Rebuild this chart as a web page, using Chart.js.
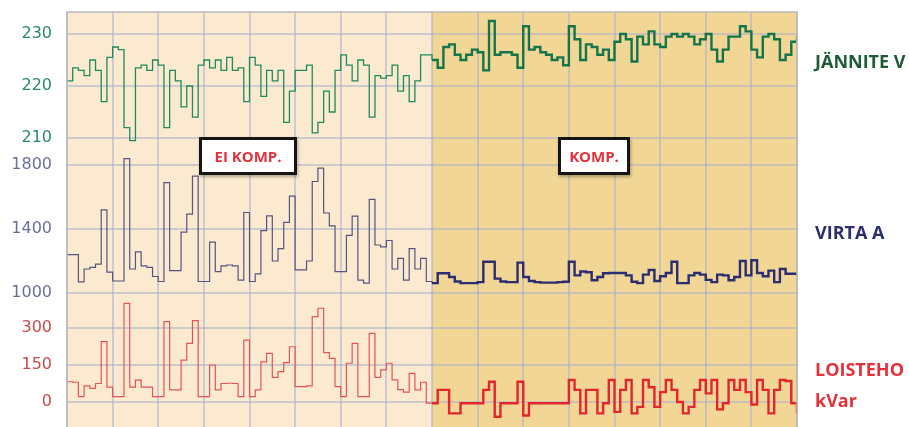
<!DOCTYPE html>
<html>
<head>
<meta charset="utf-8">
<script src="https://cdn.jsdelivr.net/npm/chart.js@4.4.1/dist/chart.umd.min.js"></script>
<style>
  html, body { margin: 0; padding: 0; background: #fff; }
  #wrap { position: relative; width: 909px; height: 427px; overflow: hidden; }
  #wrap canvas { position: absolute; left: 0; top: 0; }
  .side { position: absolute; left: 815px; font: bold 18px "Open Sans", sans-serif; white-space: nowrap; line-height: 1; }
  .tag { position: absolute; top: 137px; height: 38px; box-sizing: border-box; border: 3px solid #151515;
         background: #fff; color: #e2323c; font: bold 15px "Open Sans", sans-serif;
         display: flex; align-items: center; justify-content: center; box-shadow: 1px 2px 3px rgba(0,0,0,0.3); }
</style>
</head>
<body>
<div id="wrap">
  <canvas id="c" width="909" height="427"></canvas>
  <div class="side" style="top:52px;color:#1d5c34">JÄNNITE V</div>
  <div class="side" style="top:223px;color:#2b2f6e">VIRTA A</div>
  <div class="side" style="top:360px;color:#e2323c">LOISTEHO</div>
  <div class="side" style="top:391px;color:#e2323c">kVar</div>
  <div class="tag" style="left:199px;width:98px">EI KOMP.</div>
  <div class="tag" style="left:558px;width:72px">KOMP.</div>
</div>
<script>
const DIVS = 16;     // vertical grid divisions
const PER_DIV = 8;   // samples per division
const SPLIT = 8;     // compensation on from this division

// voltage, V
const VOLTAGE = [
  221, 223.5, 223, 222, 225, 223, 217, 225.5,
  227.5, 227, 212, 209.5, 223.5, 224, 223, 225,
  224, 212, 223, 221, 216, 220, 214, 224,
  225, 223.5, 225, 223, 225.5, 223, 223.5, 217,
  225.5, 224, 218, 223, 221, 223, 213, 219,
  223, 223, 224, 211, 213, 219, 215, 223,
  226, 224, 221, 225, 224, 214, 222, 221.5,
  222, 224, 219, 222, 217, 221, 226, 226,
  225, 223.5, 227.5, 228, 226, 225, 226, 227,
  226.5, 223, 232.5, 226, 226.5, 226.5, 226, 223.5,
  231.5, 227, 227.5, 226.5, 226, 225, 225.5, 224,
  231.5, 229, 225, 228, 227.5, 226, 227, 225,
  228.5, 230, 229, 224.7, 229.5, 228, 230.5, 228,
  227.5, 229.5, 230, 229.5, 230, 229.5, 228, 229,
  230, 227, 224.7, 227, 229.5, 229.5, 231.5, 230.5,
  227, 225.5, 229.5, 230, 229, 225, 226, 228.5, 229.5
];

// current, A
const CURRENT = [
  1240, 1240, 1070, 1150, 1160, 1180, 1520, 1130,
  1075, 1075, 1840, 1150, 1257, 1170, 1160, 1103,
  1072, 1690, 1140, 1140, 1380, 1493, 1730, 1072,
  1072, 1318, 1134, 1170, 1175, 1170, 1080, 1503,
  1072, 1120, 1390, 1482, 1200, 1277, 1441, 1605,
  1144, 1144, 1200, 1697, 1780, 1500, 1420, 1134,
  1134, 1360, 1480, 1080, 1062, 1585, 1300, 1288,
  1328, 1150, 1216, 1080, 1277, 1150, 1216, 1072,
  1062, 1123, 1123, 1100, 1072, 1062, 1062, 1062,
  1068, 1195, 1195, 1090, 1072, 1068, 1068, 1190,
  1100, 1075, 1068, 1065, 1065, 1065, 1068, 1070,
  1195, 1110, 1134, 1130, 1080, 1100, 1123, 1125,
  1125, 1125, 1110, 1070, 1062, 1115, 1144, 1075,
  1105, 1125, 1195, 1062, 1062, 1110, 1125, 1115,
  1082, 1068, 1115, 1110, 1080, 1100, 1200, 1110,
  1205, 1125, 1105, 1140, 1068, 1150, 1120, 1120, 1110
];

// reactive power, kVar
const REACTIVE = [
  82, 80, 22, 65, 55, 75, 245, 60,
  22, 22, 400, 60, 89, 60, 60, 22,
  22, 326, 49, 49, 170, 238, 330, 22,
  22, 150, 49, 75, 76, 75, 22, 251,
  22, 49, 163, 197, 100, 123, 160, 224,
  62, 62, 65, 346, 380, 200, 177, 62,
  22, 157, 238, 22, 22, 278, 100, 130,
  157, 90, 50, 40, 116, 49, 80, -5,
  -5, 49, 49, -46, -46, -5, -5, -5,
  -5, 49, 82, -60, -5, -5, -5, 82,
  -55, -5, -5, -5, -5, -5, -5, -5,
  89, 49, -46, 49, 49, -46, -5, 89,
  -40, 49, 89, -46, -20, 89, 60, -20,
  40, 89, 49, 0, -46, -20, 49, 89,
  35, 89, -30, -5, 89, 49, 89, 40,
  -10, 89, 49, -46, 49, 89, 85, -5, -46
];

const VOLT_TICKS = [210, 220, 230];
const CURR_TICKS = [1000, 1400, 1800];
const REAC_TICKS = [0, 150, 300];

const GRID = 'rgba(170,176,205,0.55)';

const toPoints = arr => arr.map((y, i) => ({ x: i / PER_DIV, y }));

function lineSet(data, axis, colLeft, colRight, wLeft, wRight) {
  return {
    data: toPoints(data),
    yAxisID: axis,
    stepped: true,
    pointRadius: 0,
    borderColor: colLeft,
    borderWidth: wLeft,
    segment: {
      borderColor: c => c.p0.parsed.x >= SPLIT ? colRight : colLeft,
      borderWidth: c => c.p0.parsed.x >= SPLIT ? wRight : wLeft,
    },
  };
}

// no extra room for labels that hang over the band edges
function noPad(s) {
  s.paddingTop = 0;
  s.paddingBottom = 0;
  s.paddingLeft = 0;
  s.paddingRight = 0;
}

function panelAxis(ticks, min, max, share, weight, color) {
  return {
    type: 'linear',
    position: 'left',
    stack: 'panels',
    stackWeight: share,
    weight,
    min, max,
    afterBuildTicks: s => { s.ticks = ticks.map(v => ({ value: v })); },
    afterFit: s => { s.width = 67; noPad(s); },
    ticks: {
      autoSkip: false,
      padding: 15,
      color,
      font: { family: 'DejaVu Sans', size: 16 },
      callback: v => String(v),
    },
    grid: { color: GRID, lineWidth: 2, drawTicks: false },
    border: { display: false },
  };
}

const panelBg = {
  id: 'panelBg',
  beforeDraw(chart) {
    const { ctx, chartArea: a, scales } = chart;
    const xs = scales.x.getPixelForValue(SPLIT);
    ctx.save();
    ctx.fillStyle = '#fbead0';
    ctx.fillRect(a.left, a.top, xs - a.left, a.bottom - a.top);
    ctx.fillStyle = '#f1d696';
    ctx.fillRect(xs, a.top, a.right - xs, a.bottom - a.top);
    ctx.restore();
  },
  afterDraw(chart) {
    const { ctx, chartArea: a } = chart;
    ctx.save();
    ctx.strokeStyle = '#b9b9b9';
    ctx.lineWidth = 1.5;
    ctx.beginPath();
    ctx.moveTo(a.left, a.bottom);
    ctx.lineTo(a.left, a.top);
    ctx.lineTo(a.right, a.top);
    ctx.lineTo(a.right, a.bottom);
    ctx.stroke();
    ctx.restore();
  },
};

new Chart(document.getElementById('c'), {
  type: 'line',
  data: {
    datasets: [
      lineSet(VOLTAGE, 'yU', '#1f8a5c', '#15744a', 1.3, 2.4),
      lineSet(CURRENT, 'yI', '#55557f', '#2b2d70', 1.2, 2.4),
      lineSet(REACTIVE, 'yQ', '#e35458', '#e3262e', 1.2, 2.4),
    ],
  },
  options: {
    responsive: false,
    animation: false,
    devicePixelRatio: 1,
    layout: { padding: { top: 12, right: 112, bottom: 0, left: 0 } },
    plugins: { legend: { display: false }, tooltip: { enabled: false } },
    scales: {
      x: {
        type: 'linear',
        min: 0,
        max: DIVS,
        afterFit: s => { s.height = 0; noPad(s); },
        ticks: { display: false, stepSize: 1 },
        grid: { color: GRID, lineWidth: 2, drawTicks: false },
        border: { display: false },
      },
      yU: panelAxis(VOLT_TICKS, 207.69, 234.23, 138, 3, '#2c8a66'),
      yI: panelAxis(CURR_TICKS, 956.25, 1893.75, 150, 2, '#6c6f9c'),
      yQ: panelAxis(REAC_TICKS, -101.4, 413.5, 127, 1, '#c84a4c'),
    },
  },
  plugins: [panelBg],
});
</script>
</body>
</html>
